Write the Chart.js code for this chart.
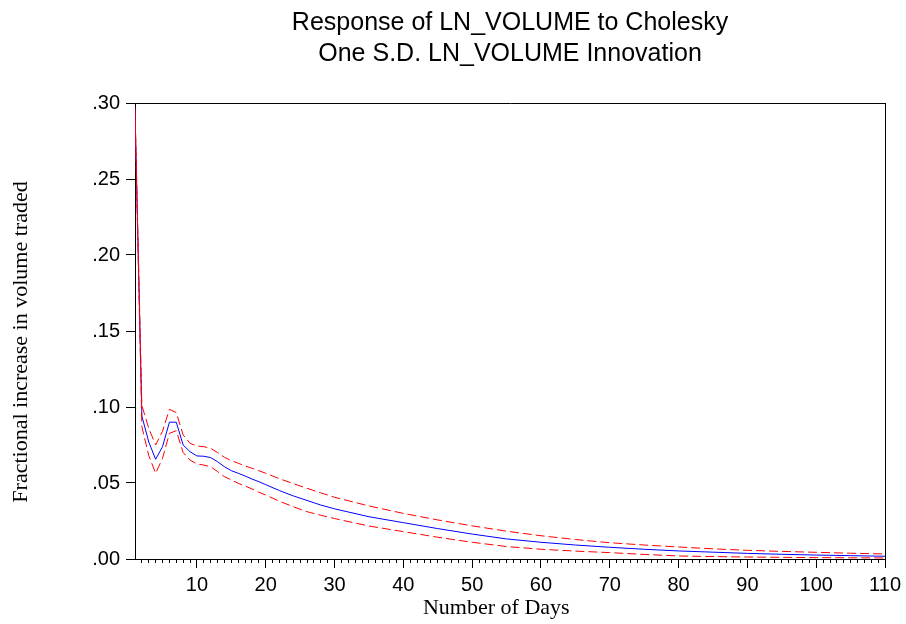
<!DOCTYPE html>
<html>
<head>
<meta charset="utf-8">
<script src="https://cdn.jsdelivr.net/npm/chart.js@4.4.1/dist/chart.umd.min.js"></script>
<style>
  html, body { margin: 0; padding: 0; background: #ffffff; }
  #c { display: block; }
</style>
</head>
<body>
<canvas id="c" width="906" height="624"></canvas>
<script>
// ---- data ----
const titleLines = ["Response of LN_VOLUME to Cholesky", "One S.D. LN_VOLUME Innovation"];
const xTitle = "Number of Days";
const yTitle = "Fractional increase in volume traded";

const days = [1,2,3,4,5,6,7,8,9,10,11,12,13,14,15,16,17,18,19,20,22,24,26,28,30,35,40,45,50,55,60,65,70,75,80,85,90,95,100,105,110];

const response = [0.295,0.094,0.077,0.0656,0.0739,0.0900,0.0900,0.0750,0.0706,0.0678,0.0676,0.0667,0.0640,0.0607,0.0581,0.0564,0.0546,0.0526,0.0509,0.0489,0.0450,0.0415,0.0385,0.0355,0.0330,0.0278,0.0239,0.0200,0.0164,0.0132,0.0110,0.0092,0.0077,0.0064,0.0053,0.0045,0.0037,0.0031,0.0026,0.0022,0.0018];

const upperBand = [0.297,0.101,0.086,0.075,0.084,0.0985,0.0963,0.0816,0.0761,0.0743,0.0739,0.0728,0.0700,0.0669,0.0647,0.0630,0.0612,0.0597,0.0581,0.0564,0.0528,0.0496,0.0465,0.0435,0.0406,0.0349,0.0300,0.0257,0.0218,0.0183,0.0153,0.0128,0.0107,0.0092,0.0079,0.0067,0.0057,0.0050,0.0044,0.0038,0.0033];

const lowerBand = [0.293,0.087,0.068,0.0564,0.0662,0.0827,0.0844,0.0700,0.0651,0.0625,0.0618,0.0607,0.0575,0.0542,0.0520,0.0498,0.0480,0.0461,0.0439,0.0421,0.0380,0.0344,0.0311,0.0288,0.0266,0.0217,0.0180,0.0143,0.0110,0.0082,0.0064,0.0052,0.0042,0.0030,0.0020,0.0016,0.0013,0.0011,0.0009,0.0008,0.0007];

const xMajorTicks = [10,20,30,40,50,60,70,80,90,100,110];
const yTickValues = [0, 0.05, 0.10, 0.15, 0.20, 0.25, 0.30];
const xMin = 1, xMax = 110;

// ---- chart ----
const toPts = (vals) => days.map((d, i) => ({ x: d, y: vals[i] }));
const minorTicks = [];
for (let d = xMin + 1; d < xMax; d++) { if (d % 10 !== 0) minorTicks.push(d); }

const black = '#000000';
const tickFont = { family: 'Liberation Sans, Arial, sans-serif', size: 20 };
const serifFont = { family: 'Liberation Serif, Times New Roman, serif', size: 22 };

new Chart(document.getElementById('c'), {
  type: 'line',
  data: {
    datasets: [
      { label: 'upper', data: toPts(upperBand), borderColor: '#ff0000', borderWidth: 1, borderDash: [9, 4], pointRadius: 0, tension: 0, fill: false },
      { label: 'lower', data: toPts(lowerBand), borderColor: '#ff0000', borderWidth: 1, borderDash: [9, 4], pointRadius: 0, tension: 0, fill: false },
      { label: 'response', data: toPts(response), borderColor: '#0000ff', borderWidth: 1, pointRadius: 0, tension: 0, fill: false }
    ]
  },
  options: {
    responsive: false,
    animation: false,
    devicePixelRatio: 1,
    layout: { padding: { left: 0, right: 19, top: 0, bottom: 0 } },
    plugins: {
      legend: { display: false },
      tooltip: { enabled: false },
      title: {
        display: true,
        text: titleLines,
        fullSize: false,
        color: black,
        font: { family: 'Liberation Sans, Arial, sans-serif', size: 25, weight: 'normal', lineHeight: 1.26 },
        padding: { top: 7, bottom: 33 }
      }
    },
    scales: {
      x: {
        type: 'linear', position: 'bottom', weight: 1,
        min: xMin, max: xMax,
        afterBuildTicks: (s) => { s.ticks = xMajorTicks.map(v => ({ value: v })); },
        afterFit: (s) => { s.height = 65; },
        ticks: { color: black, font: tickFont, padding: 5, maxRotation: 0, autoSkip: false, callback: (v) => String(v) },
        grid: { drawOnChartArea: false, drawTicks: true, tickLength: 9, tickColor: black, tickWidth: 1 },
        border: { display: true, color: black, width: 1 },
        title: { display: true, text: xTitle + '     ', color: black, font: serifFont, padding: { top: 0, bottom: 3 } }
      },
      xMinor: {
        type: 'linear', position: 'bottom', weight: 0,
        min: xMin, max: xMax,
        afterBuildTicks: (s) => { s.ticks = minorTicks.map(v => ({ value: v })); },
        afterFit: (s) => { s.height = 0; },
        ticks: { display: false, autoSkip: false },
        grid: { drawOnChartArea: false, drawTicks: true, tickLength: 4, tickColor: black, tickWidth: 1 },
        border: { display: false }
      },
      xTop: {
        type: 'linear', position: 'top',
        min: xMin, max: xMax,
        afterFit: (s) => { s.height = 0; },
        ticks: { display: false },
        grid: { drawOnChartArea: false, drawTicks: false },
        border: { display: true, color: black, width: 1 }
      },
      y: {
        type: 'linear', position: 'left',
        min: 0, max: 0.3,
        afterBuildTicks: (s) => { s.ticks = yTickValues.map(v => ({ value: v })); },
        afterFit: (s) => { s.width = 135; },
        ticks: { color: black, font: tickFont, padding: 6, callback: (v) => Number(v).toFixed(2).replace(/^0/, '') },
        grid: { drawOnChartArea: false, drawTicks: true, tickLength: 9, tickColor: black, tickWidth: 1 },
        border: { display: true, color: black, width: 1 },
        title: { display: true, text: yTitle + '    ', color: black, font: serifFont, padding: { top: 8, bottom: 0 } }
      },
      yRight: {
        type: 'linear', position: 'right',
        min: 0, max: 0.3,
        afterFit: (s) => { s.width = 0; },
        ticks: { display: false },
        grid: { drawOnChartArea: false, drawTicks: false },
        border: { display: true, color: black, width: 1 }
      }
    }
  }
});
</script>
</body>
</html>
